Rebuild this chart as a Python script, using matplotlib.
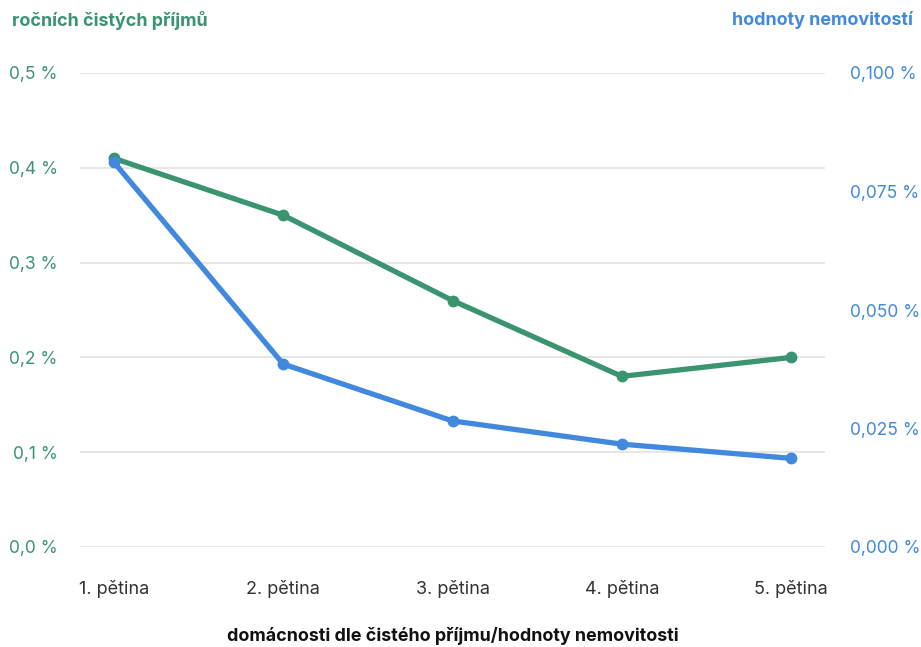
import matplotlib.pyplot as plt
from matplotlib.ticker import FuncFormatter, FixedLocator

plt.rcParams['font.family'] = ['Inter', 'DejaVu Sans']

# quintiles of households
categories = ["1. pětina", "2. pětina", "3. pětina", "4. pětina", "5. pětina"]
# share of yearly net income (left axis), in %
income_share = [0.41, 0.35, 0.26, 0.18, 0.20]
# share of property value (right axis), in %
property_share = [0.0812, 0.0386, 0.0266, 0.0217, 0.0187]

left_ticks = [0.0, 0.1, 0.2, 0.3, 0.4, 0.5]
right_ticks = [0.0, 0.025, 0.05, 0.075, 0.1]

green = "#3a9470"
blue = "#4189dd"

fig = plt.figure(figsize=(9.21, 6.47), dpi=100)
ax = fig.add_axes([80 / 921, 100 / 647, 745 / 921, 474 / 647])
ax2 = ax.twinx()

x = list(range(len(categories)))
ax.plot(x, income_share, color=green, lw=3.8, marker="o", ms=7.5,
        solid_capstyle="round", zorder=3)
ax2.plot(x, property_share, color=blue, lw=3.8, marker="o", ms=7.5,
         solid_capstyle="round", zorder=3)

ax.set_xlim(-0.2, len(categories) - 0.8)
ax.set_ylim(0, 0.5)
ax2.set_ylim(0, 0.1)

ax.yaxis.set_major_locator(FixedLocator(left_ticks))
ax2.yaxis.set_major_locator(FixedLocator(right_ticks))
ax.yaxis.set_major_formatter(FuncFormatter(lambda v, p: f"{v:.1f} %".replace(".", ",")))
ax2.yaxis.set_major_formatter(FuncFormatter(lambda v, p: f"{v:.3f} %".replace(".", ",")))

ax.set_xticks(x)
ax.set_xticklabels(categories)

ax.grid(axis="y", color="#e6e6e6", lw=1.4)
ax.set_axisbelow(True)
for a in (ax, ax2):
    for s in a.spines.values():
        s.set_visible(False)

ax.tick_params(axis="y", length=0, pad=16, labelsize=12.5, labelcolor=green)
ax2.tick_params(axis="y", length=0, pad=18, labelsize=12.5, labelcolor=blue)
ax.tick_params(axis="x", length=0, pad=24, labelsize=13, labelcolor="#333333")

fig.text(12 / 921, 1 - 20 / 647, "ročních čistých příjmů", color=green,
         fontsize=12.9, fontweight="bold", ha="left", va="center")
fig.text(913 / 921, 1 - 20 / 647, "hodnoty nemovitostí", color=blue,
         fontsize=12.9, fontweight="bold", ha="right", va="center")
fig.text(453 / 921, 1 - 636 / 647, "domácnosti dle čistého příjmu/hodnoty nemovitosti",
         color="#111111", fontsize=12.9, fontweight="bold", ha="center", va="center")

fig.savefig("out.png", dpi=100)
